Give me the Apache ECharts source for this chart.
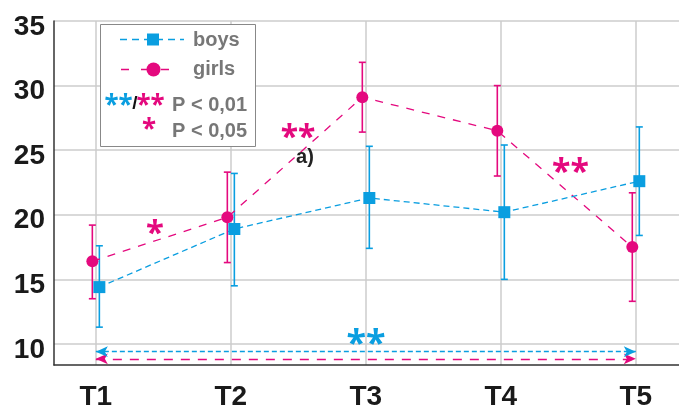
<!DOCTYPE html>
<html>
<head>
<meta charset="utf-8">
<script src="https://cdn.jsdelivr.net/npm/echarts@6/dist/echarts.min.js"></script>
<style>
  html, body { margin: 0; padding: 0; background: #fff; }
  #chart { width: 679px; height: 407px; }
</style>
</head>
<body>
<div id="chart"></div>
<script>
const times = ['T1', 'T2', 'T3', 'T4', 'T5']
const boysMean = [14.4, 18.9, 21.3, 20.2, 22.6]
const boysLow = [11.3, 14.5, 17.4, 15.0, 18.4]
const boysHigh = [17.6, 23.2, 25.3, 25.4, 26.8]
const girlsMean = [16.4, 19.8, 29.1, 26.5, 17.5]
const girlsLow = [13.5, 16.3, 26.4, 23.0, 13.3]
const girlsHigh = [19.2, 23.3, 31.8, 30.0, 21.7]
const yTicks = [10, 15, 20, 25, 30, 35]
const xTicks = [1, 2, 3, 4, 5]
// significance arrows T1 -> T5
const boysArrowY = 9.4
const girlsArrowY = 8.85

const BLUE = '#0a9ee0'
const PINK = '#e4097e'
const FONT = '"Liberation Sans", Arial, sans-serif'
const STAR = '"Noto Sans", sans-serif'
const shift = 0.026

const chart = echarts.init(document.getElementById('chart'))

const pts = (vals, dx) => vals.map((v, i) => [xTicks[i] + dx, v])
const bars = (lo, hi, dx) => lo.map((v, i) => [xTicks[i] + dx, v, hi[i]])

function errorBar (color) {
  return function (params, api) {
    const lo = api.coord([api.value(0), api.value(1)])
    const hi = api.coord([api.value(0), api.value(2)])
    const w = 3.5
    const style = { stroke: color, lineWidth: 1.6 }
    return {
      type: 'group',
      children: [
        { type: 'line', shape: { x1: lo[0], y1: lo[1], x2: hi[0], y2: hi[1] }, style },
        { type: 'line', shape: { x1: lo[0] - w, y1: lo[1], x2: lo[0] + w, y2: lo[1] }, style },
        { type: 'line', shape: { x1: hi[0] - w, y1: hi[1], x2: hi[0] + w, y2: hi[1] }, style }
      ]
    }
  }
}

function arrow (yVal, color, dash) {
  return {
    silent: true,
    symbol: ['arrow', 'arrow'],
    symbolSize: [8, 12],
    label: { show: false },
    lineStyle: { color, width: 1.4, type: dash },
    data: [[{ coord: [xTicks[0], yVal] }, { coord: [xTicks[4], yVal] }]]
  }
}

// asterisk glyph sits high in the em box, so y is nudged down by ~0.2em
function stars (text, x, y, size, color) {
  return {
    type: 'text',
    z: 11,
    style: { text, x, y: y + size * 0.2, font: 'bold ' + size + 'px ' + STAR, fill: color, align: 'center', verticalAlign: 'middle' }
  }
}
function legendLabel (text, x, y) {
  return { type: 'text', z: 11, style: { text, x, y, font: 'bold 20px ' + FONT, fill: '#777', verticalAlign: 'middle' } }
}

chart.setOption({
  animation: false,
  grid: { left: 54, right: 0, top: 21, bottom: 42, outerBoundsMode: 'none' },
  xAxis: {
    type: 'value',
    min: 0.69,
    max: 5.32,
    axisLine: { show: true, onZero: false, lineStyle: { color: '#333', width: 1.5 } },
    axisTick: { show: false, customValues: xTicks },
    axisLabel: {
      customValues: xTicks,
      formatter: v => times[Math.round(v) - 1],
      margin: 18,
      fontFamily: FONT,
      fontWeight: 'bold',
      fontSize: 28,
      color: '#1a1a1a'
    },
    splitLine: { show: true, lineStyle: { color: '#cccccc', width: 1.5 } }
  },
  yAxis: {
    type: 'value',
    min: 8.37,
    max: 35,
    axisLine: { show: true, lineStyle: { color: '#333', width: 1.5 } },
    axisTick: { show: false, customValues: yTicks },
    axisLabel: {
      customValues: yTicks,
      // the numbers sit a little below their grid lines in the original
      formatter: v => '\n' + v,
      lineHeight: 12,
      margin: 9,
      fontFamily: FONT,
      fontWeight: 'bold',
      fontSize: 28,
      color: '#1a1a1a'
    },
    splitLine: { show: true, lineStyle: { color: '#cccccc', width: 1.5 } }
  },
  series: [
    {
      name: 'boys err',
      type: 'custom',
      renderItem: errorBar(BLUE),
      data: bars(boysLow, boysHigh, shift),
      z: 3
    },
    {
      name: 'girls err',
      type: 'custom',
      renderItem: errorBar(PINK),
      data: bars(girlsLow, girlsHigh, -shift),
      z: 3
    },
    {
      name: 'girls',
      type: 'line',
      data: pts(girlsMean, -shift),
      symbol: 'circle',
      symbolSize: 12,
      itemStyle: { color: PINK },
      lineStyle: { color: PINK, width: 1.3, type: [8, 8] },
      markLine: arrow(girlsArrowY, PINK, [9, 8]),
      z: 4
    },
    {
      name: 'boys',
      type: 'line',
      data: pts(boysMean, shift),
      symbol: 'rect',
      symbolSize: 12,
      itemStyle: { color: BLUE },
      lineStyle: { color: BLUE, width: 1.3, type: [6, 4] },
      markLine: arrow(boysArrowY, BLUE, [5, 3]),
      z: 5
    }
  ],
  graphic: [
    // legend box
    { type: 'rect', shape: { x: 100.5, y: 24.5, width: 155, height: 122 }, style: { fill: '#fff', stroke: '#888', lineWidth: 1 }, z: 10 },
    { type: 'line', shape: { x1: 120, y1: 39.5, x2: 184, y2: 39.5 }, style: { stroke: BLUE, lineWidth: 1.3, lineDash: [7, 5] }, z: 11 },
    { type: 'rect', shape: { x: 147, y: 33.5, width: 12, height: 12 }, style: { fill: BLUE }, z: 11 },
    legendLabel('boys', 193, 40),
    { type: 'line', shape: { x1: 121, y1: 69.5, x2: 176, y2: 69.5 }, style: { stroke: PINK, lineWidth: 1.3, lineDash: [8, 12] }, z: 11 },
    { type: 'circle', shape: { cx: 153.5, cy: 69.5, r: 7 }, style: { fill: PINK }, z: 11 },
    legendLabel('girls', 193, 69),
    stars('**', 118.5, 101.5, 26, BLUE),
    { type: 'text', z: 11, style: { text: '/', x: 135, y: 104, font: 'bold 19px ' + FONT, fill: '#111', align: 'center', verticalAlign: 'middle' } },
    stars('**', 150.5, 101.5, 26, PINK),
    legendLabel('P < 0,01', 172, 105),
    stars('*', 149, 125.5, 26, PINK),
    legendLabel('P < 0,05', 172, 131.5),
    // significance marks
    stars('*', 155, 228, 33, PINK),
    stars('**', 298, 132.5, 32, PINK),
    { type: 'text', z: 11, style: { text: 'a)', x: 305, y: 157, font: 'bold 20px ' + FONT, fill: '#222', align: 'center', verticalAlign: 'middle' } },
    stars('**', 570.5, 167, 34, PINK),
    stars('**', 366, 338, 36, BLUE)
  ]
})
</script>
</body>
</html>
